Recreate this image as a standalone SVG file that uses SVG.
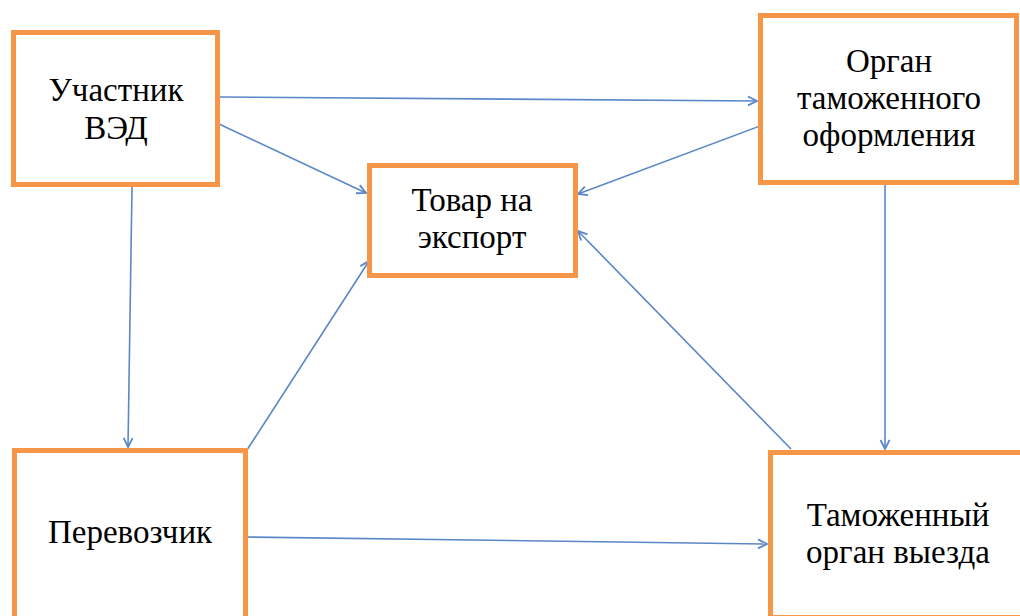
<svg xmlns="http://www.w3.org/2000/svg" width="1020" height="616" viewBox="0 0 1020 616">
<style>
.box{fill:#fff;stroke:#F79646;stroke-width:5}
.t{font-family:"Liberation Serif","Times New Roman",serif;font-size:33px;fill:#000;text-anchor:middle}
.c{stroke:#5A87C8;stroke-width:1.6;fill:none;marker-end:url(#ah)}
</style>
<defs>
<marker id="ah" viewBox="0 0 12 12" refX="11" refY="6" markerWidth="12" markerHeight="12" markerUnits="userSpaceOnUse" orient="auto">
<path d="M2,1.5 L11,6 L2,10.5" fill="none" stroke="#5A87C8" stroke-width="1.8" stroke-linejoin="miter"/>
</marker>
</defs>
<rect width="1020" height="616" fill="#fff"/>
<g id="connectors">
<line class="c" x1="220" y1="97" x2="757" y2="101"/>
<line class="c" x1="219" y1="124" x2="366" y2="193"/>
<line class="c" x1="768" y1="123" x2="578" y2="194"/>
<line class="c" x1="132" y1="187" x2="128" y2="447"/>
<line class="c" x1="247" y1="450" x2="369" y2="261"/>
<line class="c" x1="246" y1="537" x2="767" y2="544"/>
<line class="c" x1="885" y1="185" x2="885" y2="449"/>
<line class="c" x1="791" y1="449" x2="578" y2="231"/>
</g>
<g id="uchastnik">
<rect class="box" x="13.5" y="32.5" width="204" height="152"/>
<text class="t" x="116" y="101">Участник</text>
<text class="t" x="116" y="139">ВЭД</text>
</g>
<g id="organ-oformleniya">
<rect class="box" x="760.5" y="15.5" width="256" height="167"/>
<text class="t" x="889" y="72">Орган</text>
<text class="t" x="889" y="109">таможенного</text>
<text class="t" x="889" y="146">оформления</text>
</g>
<g id="tovar">
<rect class="box" x="369.5" y="165.5" width="206" height="110"/>
<text class="t" x="472" y="211">Товар на</text>
<text class="t" x="472" y="248">экспорт</text>
</g>
<g id="perevozchik">
<rect class="box" x="14.5" y="450.5" width="231" height="170"/>
<text class="t" x="130" y="543">Перевозчик</text>
</g>
<g id="organ-vyezda">
<rect class="box" x="770.5" y="452.5" width="260" height="165"/>
<text class="t" x="898" y="526">Таможенный</text>
<text class="t" x="898" y="563">орган выезда</text>
</g>
</svg>
